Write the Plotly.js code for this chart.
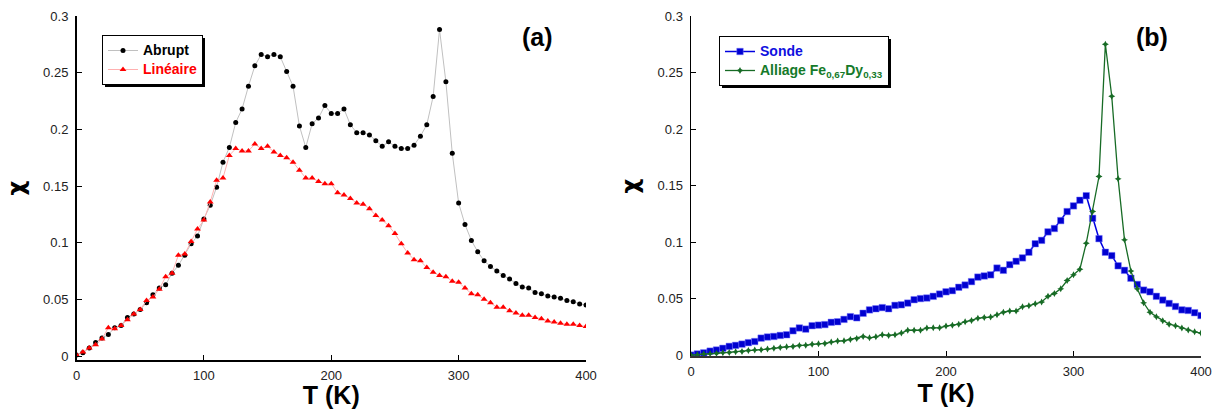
<!DOCTYPE html>
<html>
<head>
<meta charset="utf-8">
<script src="https://cdn.plot.ly/plotly-3.0.1.min.js"></script>
<style>html,body{margin:0;padding:0;background:#fff;}#chart{width:1221px;height:409px;}</style>
</head>
<body>
<div id="chart"></div>
<script>
// Temperature grid (K)
const T = [0,5,10,15,20,25,30,35,40,45,50,55,60,65,70,75,80,85,90,95,
  100,105,110,115,120,125,130,135,140,145,150,155,160,165,170,175,180,185,190,195,
  200,205,210,215,220,225,230,235,240,245,250,255,260,265,270,275,280,285,290,295,
  300,305,310,315,320,325,330,335,340,345,350,355,360,365,370,375,380,385,390,395,400];

// Panel (a)
const abrupt = [0.001,0.003,0.007,0.012,0.016,0.019,0.025,0.027,0.034,0.037,
  0.041,0.047,0.054,0.060,0.063,0.073,0.080,0.089,0.099,0.106,
  0.121,0.133,0.149,0.171,0.184,0.206,0.218,0.238,0.256,0.266,
  0.264,0.266,0.264,0.251,0.238,0.203,0.184,0.205,0.210,0.221,
  0.214,0.214,0.218,0.204,0.197,0.197,0.195,0.190,0.185,0.189,
  0.185,0.183,0.183,0.186,0.194,0.204,0.229,0.288,0.242,0.179,
  0.135,0.116,0.102,0.092,0.084,0.079,0.075,0.071,0.068,0.064,
  0.061,0.060,0.056,0.055,0.053,0.052,0.051,0.049,0.048,0.046,0.045];
const lineaire = [0.001,0.0035,0.007,0.010,0.015,0.025,0.024,0.027,0.032,0.037,
  0.041,0.049,0.052,0.059,0.070,0.073,0.089,0.090,0.101,0.112,
  0.120,0.136,0.155,0.157,0.177,0.183,0.181,0.181,0.187,0.183,
  0.185,0.180,0.177,0.175,0.171,0.164,0.157,0.157,0.154,0.152,
  0.152,0.144,0.142,0.139,0.135,0.134,0.130,0.124,0.120,0.115,
  0.108,0.099,0.091,0.085,0.084,0.078,0.074,0.071,0.070,0.066,
  0.065,0.060,0.055,0.054,0.050,0.047,0.043,0.043,0.040,0.038,
  0.036,0.036,0.034,0.033,0.031,0.030,0.029,0.028,0.028,0.027,0.026];

// Panel (b)
const sonde = [0,0.001,0.002,0.0035,0.0045,0.006,0.0077,0.0086,0.0097,0.011,
  0.012,0.015,0.016,0.0165,0.0174,0.018,0.0215,0.024,0.023,0.026,
  0.0265,0.027,0.029,0.0295,0.0316,0.034,0.033,0.037,0.040,0.041,
  0.042,0.041,0.044,0.0445,0.046,0.049,0.050,0.0505,0.052,0.054,
  0.056,0.057,0.060,0.062,0.065,0.069,0.070,0.071,0.077,0.075,
  0.080,0.083,0.086,0.091,0.0985,0.1015,0.109,0.112,0.119,0.127,
  0.132,0.137,0.141,0.121,0.103,0.091,0.088,0.079,0.075,0.068,
  0.0625,0.0575,0.056,0.052,0.0487,0.0457,0.043,0.040,0.0395,0.0375,0.035];
const alliage = [0,0.0003,0.001,0.0012,0.0015,0.002,0.0024,0.003,0.0032,0.004,
  0.0044,0.0047,0.0053,0.006,0.0068,0.0074,0.0077,0.0086,0.0088,0.0097,
  0.010,0.0103,0.0115,0.0124,0.0127,0.0139,0.0147,0.0165,0.0153,0.0162,
  0.018,0.0174,0.018,0.0195,0.022,0.022,0.022,0.024,0.0242,0.0242,
  0.0257,0.0265,0.0274,0.0295,0.0307,0.0327,0.0333,0.0336,0.0357,0.038,
  0.039,0.039,0.0428,0.0437,0.0454,0.047,0.052,0.0546,0.0587,0.066,
  0.071,0.076,0.099,0.127,0.158,0.275,0.229,0.156,0.102,0.0745,
  0.0587,0.0463,0.0378,0.034,0.0304,0.0274,0.026,0.024,0.0221,0.0206,0.0195];

const xTicks = [0,100,200,300,400];
const yTicks = [0,0.05,0.1,0.15,0.2,0.25,0.3];
const yTickText = ['0','0.05','0.1','0.15','0.2','0.25','0.3'];

const W = 1221, H = 409;
const FONT = 'Liberation Sans, Arial, Helvetica, sans-serif';
const LEG = 'font-size:14px;';

const traces = [
  {x: T, y: abrupt, name: '<span style="' + LEG + 'color:#000">Abrupt</span>', type: 'scatter', mode: 'lines+markers',
   xaxis: 'x', yaxis: 'y', legend: 'legend',
   line: {color: '#c0c0c0', width: 1}, marker: {color: '#000', size: 5, symbol: 'circle'}},
  {x: T, y: lineaire, name: '<span style="' + LEG + 'color:#ff0000">Linéaire</span>', type: 'scatter', mode: 'lines+markers',
   xaxis: 'x', yaxis: 'y', legend: 'legend',
   line: {color: '#ffb0b0', width: 1}, marker: {color: '#ff0000', size: 6, symbol: 'triangle-up'}},
  {x: T, y: sonde, name: '<span style="' + LEG + 'color:#1010e0">Sonde</span>', type: 'scatter', mode: 'lines+markers',
   xaxis: 'x2', yaxis: 'y2', legend: 'legend2',
   line: {color: '#0000e0', width: 1.5}, marker: {color: '#0000d0', size: 6.5, symbol: 'square', line: {color: 'rgba(120,120,255,0.6)', width: 0.8}}},
  {x: T, y: alliage, name: '<span style="' + LEG + 'color:#157a2a">Alliage Fe<sub>0,67</sub>Dy<sub>0,33</sub></span>', type: 'scatter', mode: 'lines+markers',
   xaxis: 'x2', yaxis: 'y2', legend: 'legend2',
   line: {color: '#176b25', width: 1.3}, marker: {color: '#176b25', size: 5, symbol: 'star-diamond'}}
];

function xAxis(domain) {
  return {
    domain: domain, range: [0, 400], tickvals: xTicks, ticktext: xTicks.map(String),
    ticks: 'inside', ticklen: 5, tickwidth: 1, tickcolor: '#000',
    showline: true, linecolor: '#000', linewidth: 1.5, showgrid: false, zeroline: false,
    tickfont: {family: FONT, size: 13, color: '#222'}, ticklabelstandoff: 3,
    title: {text: 'T (K)', font: {family: FONT, size: 25, color: '#000', weight: 'bold'}, standoff: 0},
    fixedrange: true
  };
}
function yAxis(domain, range, anchor) {
  return {
    domain: domain, range: range, tickvals: yTicks, ticktext: yTickText, anchor: anchor,
    ticks: 'inside', ticklen: 5, tickwidth: 1, tickcolor: '#000',
    showline: true, linecolor: '#000', linewidth: 1.5, showgrid: false, zeroline: false,
    tickfont: {family: FONT, size: 13, color: '#222'}, ticklabelstandoff: 4,
    title: {text: '\u2002χ', font: {family: 'DejaVu Sans, sans-serif', size: 23, color: '#000', weight: 'bold'}, standoff: 12},
    fixedrange: true
  };
}

const layout = {
  width: W, height: H,
  margin: {l: 0, r: 0, t: 0, b: 0, pad: 0},
  paper_bgcolor: '#fff', plot_bgcolor: '#fff',
  showlegend: true,
  xaxis: xAxis([76.5 / W, 586 / W]),
  yaxis: yAxis([1 - 360 / H, 1 - 16 / H], [-0.0035, 0.3], 'x'),
  xaxis2: Object.assign(xAxis([691 / W, 1201 / W]), {anchor: 'y2', linecolor: '#333'}),
  yaxis2: yAxis([1 - 356 / H, 1 - 16 / H], [-0.0008, 0.3], 'x2'),
  legend: {x: 102 / W, y: 1 - 35 / H, xanchor: 'left', yanchor: 'top',
    bgcolor: '#fff', bordercolor: '#000', borderwidth: 1,
    font: {family: FONT, size: 11, color: '#000', weight: 'bold'}, tracegroupgap: 0},
  legend2: {x: 719 / W, y: 1 - 36 / H, xanchor: 'left', yanchor: 'top',
    bgcolor: '#fff', bordercolor: '#000', borderwidth: 1,
    font: {family: FONT, size: 11, color: '#000', weight: 'bold'}, tracegroupgap: 0},
  annotations: [
    {text: '(a)', xref: 'paper', yref: 'paper', x: 537 / W, y: 1 - 37 / H, xanchor: 'center', yanchor: 'middle',
     showarrow: false, font: {family: FONT, size: 25, color: '#000', weight: 'bold'}},
    {text: '(b)', xref: 'paper', yref: 'paper', x: 1152 / W, y: 1 - 37 / H, xanchor: 'center', yanchor: 'middle',
     showarrow: false, font: {family: FONT, size: 25, color: '#000', weight: 'bold'}}
  ]
};

Plotly.newPlot('chart', traces, layout, {staticPlot: true, displayModeBar: false}).then(function (gd) {
  // drop shadow behind each legend box, measured from the rendered legend
  const root = gd.getBoundingClientRect();
  const shapes = [];
  gd.querySelectorAll('g.legend rect.bg, g.legend2 rect.bg').forEach(function (bg) {
    const r = bg.getBoundingClientRect();
    const off = 2.5;
    shapes.push({type: 'rect', xref: 'paper', yref: 'paper', layer: 'above',
      x0: (r.left - root.left + off) / W, x1: (r.right - root.left + off) / W,
      y0: 1 - (r.bottom - root.top + off) / H, y1: 1 - (r.top - root.top + off) / H,
      fillcolor: '#000', line: {width: 0}});
  });
  if (shapes.length) Plotly.relayout(gd, {shapes: shapes});
});
</script>
</body>
</html>
